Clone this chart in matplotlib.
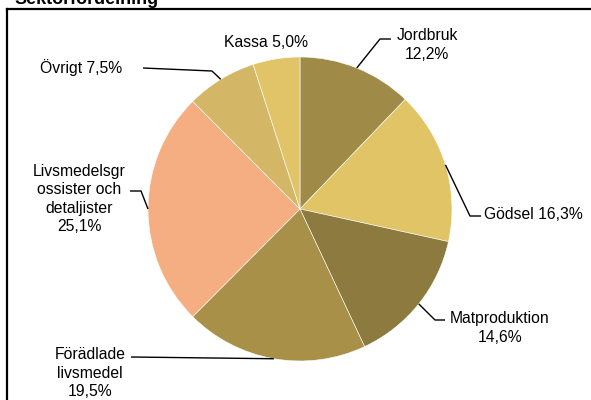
import numpy as np
import matplotlib
matplotlib.use('Agg')
import matplotlib.pyplot as plt

plt.rcParams['font.family'] = ['Liberation Sans', 'DejaVu Sans']

# Data
sektorer = ['Jordbruk', 'Gödsel', 'Matproduktion', 'Förädlade\nlivsmedel',
            'Livsmedelsgr\nossister och\ndetaljister', 'Övrigt', 'Kassa']
andelar = [12.2, 16.3, 14.6, 19.5, 25.1, 7.5, 5.0]
farger = ['#A08A48', '#E0C466', '#8C7A3E', '#A89048', '#F5AE82', '#D4B766', '#E2C468']

# pixel -> data (center of pie at px 300,209, radius 152 px)
CX, CY, R = 300, 209, 152
def px(x, y):
    return ((x - CX) / R, (CY - y) / R)

fig = plt.figure(figsize=(5.91, 4.0), dpi=100)
ax = fig.add_axes([0, 0, 1, 1])
ax.axis('off')

wedges, _ = ax.pie(andelar, colors=farger, startangle=90, counterclock=False,
                   radius=1, wedgeprops=dict(edgecolor='white', linewidth=0.4),
                   normalize=True)
ax.set_xlim(px(0, 0)[0], px(591, 0)[0])
ax.set_ylim(px(0, 400)[1], px(0, 0)[1])
ax.set_aspect('auto')

def kant(w):
    a = np.deg2rad((w.theta1 + w.theta2) / 2)
    return (w.r * np.cos(a), w.r * np.sin(a))

def etikett(i):
    return f"{andelar[i]:.1f}".replace('.', ',') + '%'

fs = 11.3
# label layout: (text pos px, ha, one-line?, leader points px)
layout = [
    ((427, 45), 'center', False, [(380, 39), (391, 39)]),
    ((484, 214), 'left', True, [(470, 216), (481, 216)]),
    ((500, 328), 'center', False, [(435, 320), (445, 320)]),
    ((90, 373), 'center', False, [(131, 357)]),
    ((79, 199), 'center', False, [(141, 191), (130, 191)]),
    ((81, 68), 'center', True, [(212, 71), (143, 68)]),
    ((266, 42), 'center', True, []),
]

for i, w in enumerate(wedges):
    (tx, ty), ha, en_rad, punkter = layout[i]
    namn = sektorer[i]
    if en_rad:
        text = namn + ' ' + etikett(i)
    else:
        text = namn + '\n' + etikett(i)
    ax.text(*px(tx, ty), text, ha=ha, va='center', multialignment='center',
            fontsize=fs, color='black', linespacing=1.3)
    if punkter:
        ex, ey = kant(w)
        xs = [ex] + [px(x, y)[0] for x, y in punkter]
        ys = [ey] + [px(x, y)[1] for x, y in punkter]
        ax.plot(xs, ys, color='black', lw=1.0, solid_capstyle='butt')

# Frame and cropped title
fig.add_artist(plt.Line2D([7 / 591, 7 / 591], [0, 391 / 400], color='black', lw=1.6))
fig.add_artist(plt.Line2D([7 / 591, 1], [391 / 400, 391 / 400], color='black', lw=1.6))
fig.text(14 / 591, 396 / 400, 'Sektorfördelning', fontsize=13, fontweight='bold',
         ha='left', va='baseline')

fig.savefig('out.png', dpi=100)
